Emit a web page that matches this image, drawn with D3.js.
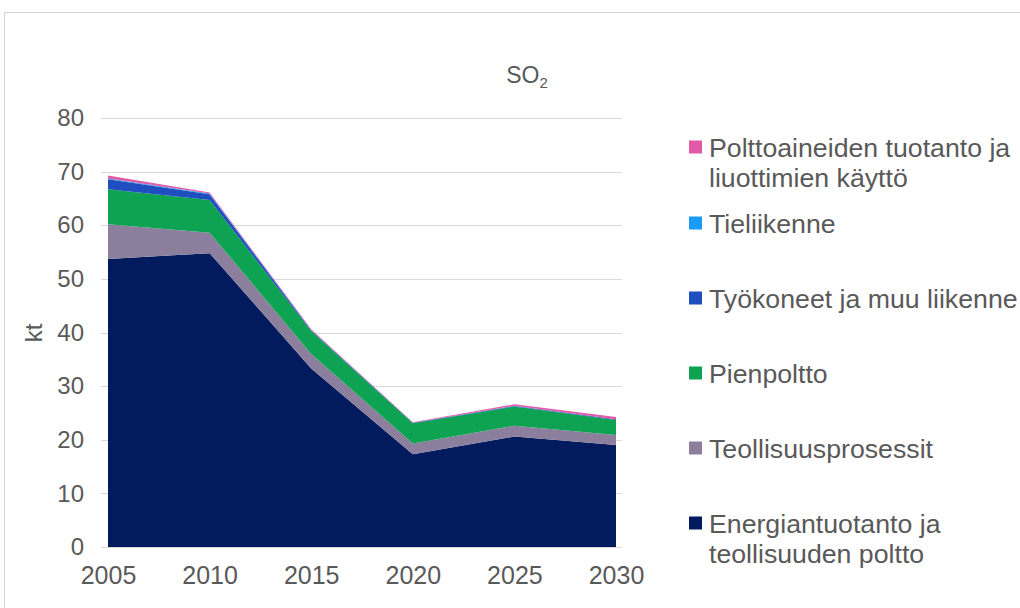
<!DOCTYPE html>
<html>
<head>
<meta charset="utf-8">
<script src="https://cdn.jsdelivr.net/npm/d3@7"></script>
<style>
  html, body { margin: 0; padding: 0; background: #fff; }
  svg { display: block; font-family: "Liberation Sans", Arial, sans-serif; }
</style>
</head>
<body>
<svg id="chart" width="1020" height="608"></svg>
<script>
const years = [2005, 2010, 2015, 2020, 2025, 2030];
const energia = [53.7, 54.8, 33.3, 17.3, 20.6, 19.0];
const teollisuus = [6.5, 3.8, 2.7, 2.0, 2.0, 1.9];
const pienpoltto = [6.5, 6.1, 4.3, 3.8, 3.6, 2.8];
const tyokoneet = [1.9, 1.1, 0.1, 0.05, 0.1, 0.1];
const tieliikenne = [0.1, 0.1, 0.05, 0.02, 0.02, 0.02];
const polttoaineet = [0.6, 0.2, 0.15, 0.1, 0.3, 0.4];
const yTicks = [0, 10, 20, 30, 40, 50, 60, 70, 80];

const seriesDefs = [
  { key: "energia", values: energia, color: "#021a5e", label: ["Energiantuotanto ja", "teollisuuden poltto"] },
  { key: "teollisuus", values: teollisuus, color: "#8b7f9d", label: ["Teollisuusprosessit"] },
  { key: "pienpoltto", values: pienpoltto, color: "#0ea352", label: ["Pienpoltto"] },
  { key: "tyokoneet", values: tyokoneet, color: "#1f4fbe", label: ["Työkoneet ja muu liikenne"] },
  { key: "tieliikenne", values: tieliikenne, color: "#1a9bf5", label: ["Tieliikenne"] },
  { key: "polttoaineet", values: polttoaineet, color: "#e05aa8", label: ["Polttoaineiden tuotanto ja", "liuottimien käyttö"] }
];

const table = years.map((y, i) => {
  const row = { year: y };
  seriesDefs.forEach(s => row[s.key] = s.values[i]);
  return row;
});

const svg = d3.select("#chart");
const textColor = "#595959";

// outer border
svg.append("path")
  .attr("d", "M4.5,620 L4.5,12.5 L1030,12.5")
  .attr("fill", "none").attr("stroke", "#d4d4d4").attr("stroke-width", 1);

const x = d3.scaleLinear().domain([2005, 2030]).range([108, 616]);
const y = d3.scaleLinear().domain([0, 80]).range([547, 118]);

// gridlines
svg.append("g").selectAll("line").data(yTicks.filter(t => t > 0)).join("line")
  .attr("x1", 101).attr("x2", 622)
  .attr("y1", d => Math.round(y(d)) + 0.5).attr("y2", d => Math.round(y(d)) + 0.5)
  .attr("stroke", "#d9d9d9").attr("stroke-width", 1);

// stacked areas
const stack = d3.stack().keys(seriesDefs.map(s => s.key));
const stacked = stack(table);
const area = d3.area()
  .x(d => x(d.data.year))
  .y0(d => y(d[0]))
  .y1(d => y(d[1]));

svg.append("g").selectAll("path").data(stacked).join("path")
  .attr("d", area)
  .attr("fill", (d, i) => seriesDefs[i].color);

// baseline
svg.append("line")
  .attr("x1", 101).attr("x2", 622).attr("y1", 547.5).attr("y2", 547.5)
  .attr("stroke", "#d9d9d9");

// y axis labels
const yAxis = d3.axisLeft(y).tickValues(yTicks).tickSize(0).tickPadding(0);
const yg = svg.append("g").attr("transform", "translate(84,0)").call(yAxis);
yg.select(".domain").remove();
yg.selectAll("text").attr("font-size", 24).attr("fill", textColor)
  .attr("font-family", "'Liberation Sans', Arial, sans-serif");

// x axis labels
const xAxis = d3.axisBottom(x).tickValues(years).tickFormat(d3.format("d")).tickSize(0).tickPadding(0);
const xg = svg.append("g").attr("transform", "translate(0,566)").call(xAxis);
xg.select(".domain").remove();
xg.selectAll("text").attr("font-size", 25).attr("fill", textColor)
  .attr("font-family", "'Liberation Sans', Arial, sans-serif");

// y axis title
svg.append("text")
  .attr("transform", "translate(42,333) rotate(-90)")
  .attr("text-anchor", "middle")
  .attr("font-size", 24).attr("fill", textColor)
  .text("kt");

// title
const title = svg.append("text")
  .attr("x", 527).attr("y", 83)
  .attr("text-anchor", "middle")
  .attr("font-size", 23).attr("fill", "#595959");
title.append("tspan").text("SO");
title.append("tspan").attr("font-size", 15).attr("dy", 5).text("2");

// legend
const legendItems = seriesDefs.slice().reverse();
const legendY = [147, 223, 298, 373, 448, 523];
const lg = svg.append("g");
legendItems.forEach((s, i) => {
  const cy = legendY[i];
  lg.append("rect")
    .attr("x", 689).attr("y", cy - 6.5).attr("width", 13).attr("height", 13)
    .attr("fill", s.color);
  const t = lg.append("text")
    .attr("x", 709).attr("y", cy + 10)
    .attr("font-size", 26.7).attr("fill", textColor);
  s.label.forEach((line, j) => {
    t.append("tspan").attr("x", 709).attr("dy", j === 0 ? 0 : 30).text(line);
  });
});
</script>
</body>
</html>
